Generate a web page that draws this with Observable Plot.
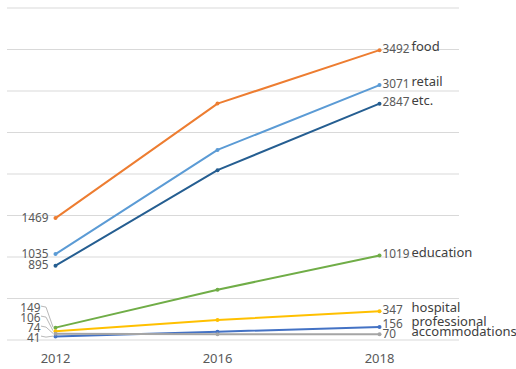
<!DOCTYPE html>
<html>
<head>
<meta charset="utf-8">
<script src="https://cdn.jsdelivr.net/npm/d3@7"></script>
<script src="https://cdn.jsdelivr.net/npm/@observablehq/plot@0.6"></script>
<style>
  html, body { margin: 0; padding: 0; background: #fff; }
  #chart { width: 516px; height: 369px; }
</style>
</head>
<body>
<div id="chart"></div>
<script>
// ---- data ----
const years = ["2012", "2016", "2018"];
const seriesNames = ["food", "retail", "etc.", "education", "hospital", "professional", "accommodations"];
const food = [1469, 2848, 3492];
const retail = [1035, 2290, 3071];
const etc = [895, 2046, 2847];
const education = [149, 605, 1019];
const hospital = [106, 241, 347];
const professional = [41, 100, 156];
const accommodations = [74, 68, 70];
const seriesColors = ["#ED7D31", "#5B9BD5", "#255E91", "#70AD47", "#FFC000", "#4472C4", "#A5A5A5"];
const yTicks = [0, 500, 1000, 1500, 2000, 2500, 3000, 3500, 4000];

const seriesValues = [food, retail, etc, education, hospital, professional, accommodations];
const rows = [];
seriesNames.forEach((name, i) => {
  years.forEach((yr, j) => rows.push({ series: name, year: yr, value: seriesValues[i][j] }));
});

// ---- layout ----
const W = 516, H = 369;
const mL = 7, mR = 57, mT = 7.5, mB = 29.5;
const font = "'Noto Sans', 'Open Sans', sans-serif";
const valueColor = "#595959";
const nameColor = "#404040";

const yScale = Plot.scale({ y: { domain: [0, 4000], range: [H - mB, mT] } });

// simple bottom-up label dodging (pixel space)
function dodge(vals, gap, firstOffset) {
  const idx = vals.map((v, i) => i).sort((a, b) => vals[a] - vals[b]);
  const out = new Array(vals.length);
  let prev = null;
  idx.forEach((i, k) => {
    const py = yScale.apply(vals[i]);
    let ly = k === 0 ? py + firstOffset : Math.min(py, prev - gap);
    out[i] = ly;
    prev = ly;
  });
  return out;
}

const first = seriesValues.map(s => s[0]);
const last = seriesValues.map(s => s[2]);
const firstPix = dodge(first, 10, 2);
const lastPix = dodge(last, 10, 1);

const leftLabels = seriesNames.map((name, i) => {
  const py = yScale.apply(first[i]);
  const moved = Math.abs(firstPix[i] - py) > 1.5;
  return { series: name, value: first[i], year: "2012", ly: yScale.invert(firstPix[i]), moved };
});
const rightLabels = seriesNames.map((name, i) => ({
  series: name, value: last[i], year: "2018", ly: yScale.invert(lastPix[i])
}));

const chart = Plot.plot({
  width: W,
  height: H,
  marginLeft: mL,
  marginRight: mR,
  marginTop: mT,
  marginBottom: mB,
  style: { fontFamily: font, background: "#fff", color: valueColor },
  x: { type: "point", domain: years, padding: 0, insetLeft: 48, insetRight: 80, label: null },
  y: { domain: [0, 4000], axis: null },
  color: { domain: seriesNames, range: seriesColors },
  marks: [
    Plot.ruleY(yTicks, { stroke: "#D9D9D9", strokeWidth: 1 }),
    Plot.axisX({ tickSize: 0, tickPadding: 14, fontSize: 13, fill: valueColor, label: null }),
    // leader lines for dodged left labels
    (index, scales) => {
      const g = d3.create("svg:g").attr("fill", "none").attr("stroke", "#A6A6A6").attr("stroke-width", 0.8);
      leftLabels.filter(d => d.moved).forEach(d => {
        const px = scales.x(d.year), py = scales.y(d.value), ly = scales.y(d.ly);
        g.append("path").attr("d", `M${px - 14},${ly - 2}L${px - 9},${ly - 1}L${px - 2},${py}`);
      });
      return g.node();
    },
    Plot.line(rows, { x: "year", y: "value", z: "series", stroke: "series", strokeWidth: 2 }),
    Plot.dot(rows, { x: "year", y: "value", fill: "series", r: 2 }),
    // left value labels
    Plot.text(leftLabels, {
      x: "year", y: "ly", text: d => String(d.value),
      textAnchor: "end", fontSize: 11.8, fill: valueColor
    }),
    // right value labels
    Plot.text(rightLabels, {
      x: "year", y: "ly", text: d => String(d.value), dx: 3, dy: -1,
      textAnchor: "start", fontSize: 11.8, fill: valueColor
    }),
    // series names
    Plot.text(rightLabels, {
      x: "year", y: "ly", text: "series", dx: 32, dy: -3,
      textAnchor: "start", fontSize: 13, fill: nameColor
    })
  ]
});

// shift left labels horizontally: dodged ones further left
d3.select(chart).selectAll("g[aria-label='text']").filter((d, i) => i === 0)
  .selectAll("text").each(function (d, i) {
    const lab = leftLabels[i];
    const shift = lab && lab.moved ? -15 : -7;
    if (this.hasAttribute("x")) this.setAttribute("x", (+this.getAttribute("x")) + shift);
    else {
      const t = this.getAttribute("transform") || "";
      this.setAttribute("transform", t + ` translate(${shift},0)`);
    }
  });

document.getElementById("chart").appendChild(chart);
</script>
</body>
</html>
